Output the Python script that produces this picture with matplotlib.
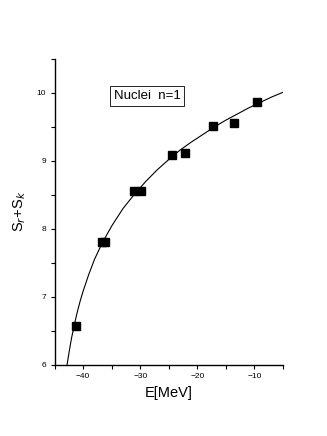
import matplotlib
matplotlib.use('Agg')
import matplotlib.pyplot as plt
from matplotlib.ticker import MultipleLocator

plt.rcParams['font.family'] = ['Liberation Sans', 'DejaVu Sans']

# Pontos medidos
energia = [-41.2, -36.7, -36.1, -31.0, -29.8, -24.5, -22.1, -17.2, -13.5, -9.5]
soma_s = [6.57, 7.80, 7.80, 8.56, 8.56, 9.09, 9.11, 9.52, 9.56, 9.87]

# Curva ajustada
curva_x = [-42.8, -42.4, -42.0, -41.5, -41.0, -40.5, -40.0, -39.0, -38.0, -37.0,
           -36.0, -35.0, -33.0, -31.0, -29.0, -27.0, -25.0, -23.0, -21.0, -19.0,
           -17.0, -15.0, -13.0, -11.0, -9.0, -7.0, -5.0]
curva_y = [6.00, 6.21, 6.40, 6.60, 6.78, 6.94, 7.08, 7.33, 7.55, 7.73,
           7.89, 8.04, 8.30, 8.51, 8.70, 8.87, 9.02, 9.16, 9.28, 9.39,
           9.50, 9.60, 9.69, 9.78, 9.86, 9.94, 10.01]

fig = plt.figure(figsize=(3.27, 4.36), dpi=100)
ax = fig.add_axes([0.1667, 0.1635, 0.6987, 0.7012])

ax.plot(curva_x, curva_y, color='black', linewidth=0.8)
ax.plot(energia, soma_s, linestyle='none', marker='s', color='black', markersize=5.5)

ax.set_xlim(-45, -5)
ax.set_ylim(6, 10.5)
ax.xaxis.set_major_locator(MultipleLocator(10))
ax.xaxis.set_minor_locator(MultipleLocator(5))
ax.yaxis.set_major_locator(MultipleLocator(1))
ax.yaxis.set_minor_locator(MultipleLocator(0.5))

for lado in ['top', 'right']:
    ax.spines[lado].set_visible(False)
for lado in ['left', 'bottom']:
    ax.spines[lado].set_linewidth(1.0)

ax.tick_params(which='both', direction='out', length=3, width=0.8, labelsize=6, pad=3)

ax.set_xlabel('E[MeV]', fontsize=10.5, labelpad=4)
ax.set_ylabel('S$_r$+S$_k$', fontsize=10.5, labelpad=6)

ax.text(0.405, 0.879, 'Nuclei  n=1', transform=ax.transAxes, fontsize=9.5,
        ha='center', va='center',
        bbox=dict(boxstyle='square,pad=0.3', facecolor='white', edgecolor='black', linewidth=0.6))

fig.savefig('out.png', dpi=100)
